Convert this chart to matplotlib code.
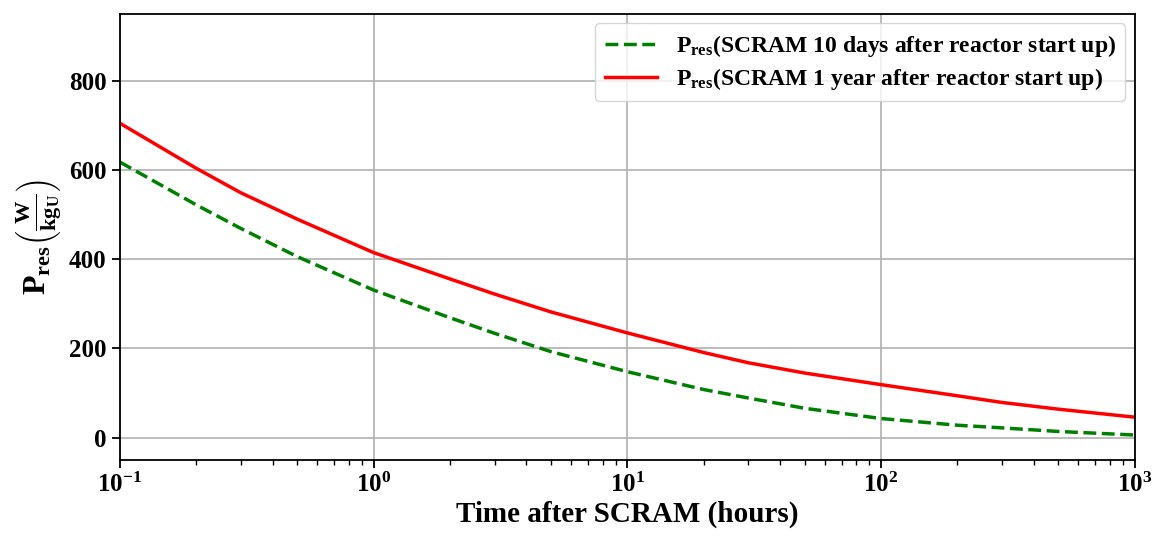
import numpy as np
import matplotlib
matplotlib.use('Agg')
import matplotlib.pyplot as plt

# time after SCRAM (hours) and residual power (W/kgU)
t_hours = [0.1, 0.2, 0.3, 0.5, 1, 2, 3, 5, 10, 20, 30, 50, 100, 200, 300, 500, 1000]
p_10days = [618, 522, 469, 406, 331, 269, 234, 193, 148, 108, 89, 66, 43, 28, 22, 14, 6]
p_1year = [705, 604, 549, 490, 415, 356, 322, 282, 235, 191, 168, 145, 119, 94, 79, 64, 46]

label_10days = r'$\mathrm{P_{res}}$(SCRAM 10 days after reactor start up)'
label_1year = r'$\mathrm{P_{res}}$(SCRAM 1 year after reactor start up)'

plt.rcParams['font.family'] = ['Liberation Serif', 'DejaVu Serif']
plt.rcParams['font.weight'] = 'bold'
plt.rcParams['mathtext.fontset'] = 'custom'
plt.rcParams['mathtext.rm'] = 'Liberation Serif:bold'
plt.rcParams['mathtext.it'] = 'Liberation Serif:italic:bold'
plt.rcParams['mathtext.bf'] = 'Liberation Serif:bold'

fig, ax = plt.subplots(figsize=(11.53, 5.38), dpi=100)
fig.subplots_adjust(left=0.104, right=0.984, top=0.974, bottom=0.145)

ax.plot(t_hours, p_10days, color='green', linestyle='--', linewidth=2.5, label=label_10days)
ax.plot(t_hours, p_1year, color='red', linestyle='-', linewidth=2.5, label=label_1year)

ax.set_xscale('log')
ax.set_xlim(0.1, 1000)
ax.set_ylim(-50, 950)
ax.set_yticks([0, 200, 400, 600, 800])
ax.grid(True, color='#b0b0b0', linewidth=1.2)

for s in ax.spines.values():
    s.set_linewidth(1.3)
ax.tick_params(which='major', labelsize=18, length=6, width=1.3)
ax.tick_params(which='minor', length=3.5, width=1.0)
for lab in ax.get_xticklabels() + ax.get_yticklabels():
    lab.set_fontweight('bold')

ax.set_xlabel('Time after SCRAM (hours)', fontsize=21, fontweight='bold', labelpad=2)
ax.set_ylabel(r'$\mathrm{P_{res}}\left(\frac{\mathrm{W}}{\mathrm{kg_U}}\right)$', fontsize=23)

ax.legend(loc='upper right', prop={'weight': 'bold', 'size': 17}, borderaxespad=0.4,
          handlelength=2.2, labelspacing=0.3)

plt.savefig('out.png', dpi=100)
